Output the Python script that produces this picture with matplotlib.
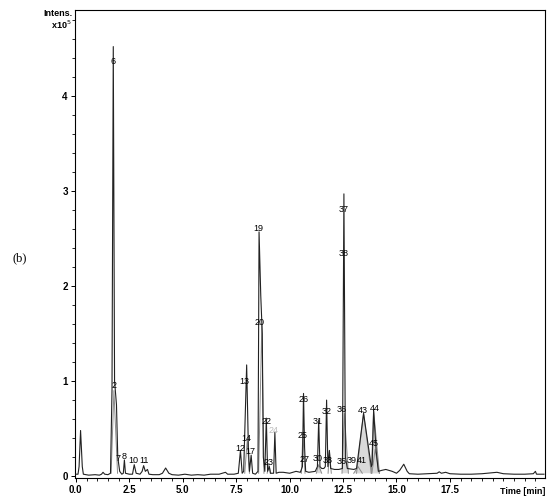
import numpy as np
import matplotlib
matplotlib.use('Agg')
import matplotlib.pyplot as plt

# Cromatograma (b) - intensidad en unidades de 1e5
t_trace = [0.0, 0.1, 0.15, 0.22, 0.3, 0.35, 0.6, 0.9, 1.1, 1.2, 1.27, 1.35, 1.5, 1.62,
           1.69, 1.75, 1.81, 1.9, 1.96, 2.05, 2.15, 2.22, 2.27, 2.32, 2.5, 2.65, 2.73, 2.82,
           3.0, 3.1, 3.17, 3.25, 3.35, 3.42, 3.6, 3.9, 4.05, 4.2, 4.35, 4.5, 4.8, 5.1, 5.4,
           5.7, 6.0, 6.3, 6.7, 7.0, 7.1, 7.4, 7.6, 7.7, 7.78, 7.85, 7.99, 8.07, 8.12, 8.2,
           8.27, 8.4, 8.52, 8.57, 8.65, 8.72, 8.77, 8.84, 8.91, 8.97, 9.05, 9.1, 9.25, 9.31,
           9.37, 9.5, 9.7, 10.0, 10.3, 10.5, 10.6, 10.65, 10.7, 10.75, 10.9, 11.2, 11.3,
           11.36, 11.42, 11.5, 11.6, 11.67, 11.73, 11.79, 11.86, 11.92, 12.1, 12.3, 12.47,
           12.54, 12.61, 12.7, 13.0, 13.13, 13.46, 13.82, 13.86, 13.93, 14.05, 14.15, 14.3,
           14.5, 14.8, 15.0, 15.15, 15.34, 15.5, 15.6, 16.0, 16.5, 16.9, 17.0, 17.1, 17.3,
           17.5, 18.0, 18.5, 19.0, 19.5, 19.7, 20.0, 20.5, 21.0, 21.4, 21.5, 21.55, 21.9]
i_trace = [0.02, 0.02, 0.1, 0.48, 0.1, 0.02, 0.01, 0.015, 0.01, 0.02, 0.04, 0.02, 0.015, 0.03,
           0.9, 4.52, 1.0, 0.75, 0.2, 0.05, 0.02, 0.03, 0.17, 0.03, 0.02, 0.02, 0.12, 0.03,
           0.02, 0.05, 0.11, 0.05, 0.07, 0.02, 0.015, 0.015, 0.03, 0.085, 0.03, 0.015, 0.01,
           0.02, 0.01, 0.015, 0.01, 0.02, 0.02, 0.04, 0.02, 0.02, 0.03, 0.27, 0.03, 0.05,
           1.17, 0.3, 0.05, 0.22, 0.03, 0.02, 0.05, 2.57, 1.9, 1.5, 0.2, 0.05, 0.61, 0.05,
           0.1, 0.03, 0.03, 0.46, 0.03, 0.04, 0.04, 0.03, 0.05, 0.04, 0.1, 0.87, 0.3, 0.05,
           0.04, 0.05, 0.1, 0.59, 0.1, 0.08, 0.08, 0.1, 0.8, 0.1, 0.27, 0.08, 0.07, 0.07,
           0.08, 2.97, 0.2, 0.08, 0.07, 0.08, 0.66, 0.1, 0.12, 0.69, 0.26, 0.05, 0.06, 0.07,
           0.05, 0.03, 0.06, 0.125, 0.05, 0.025, 0.02, 0.025, 0.03, 0.045, 0.03, 0.04,
           0.025, 0.02, 0.02, 0.025, 0.035, 0.04, 0.025, 0.02, 0.02, 0.025, 0.05, 0.02, 0.02]

# Picos individuales (trazas grises): inicio, apice, fin, altura
eic_start = [1.65, 7.9, 8.55, 8.95, 10.55, 11.25, 11.8, 12.45, 13.0, 13.13, 13.82, 13.85]
eic_apex = [1.78, 8.02, 8.7, 9.03, 10.62, 11.35, 11.86, 12.56, 13.2, 13.46, 13.93, 14.0]
eic_end = [1.95, 8.12, 8.8, 9.12, 10.72, 11.5, 11.95, 12.75, 13.4, 13.82, 14.2, 14.2]
eic_height = [0.9, 0.38, 1.6, 0.12, 0.45, 0.12, 0.27, 0.66, 0.1, 0.66, 0.69, 0.28]
eic_filled = [False, False, False, False, False, True, False, True, True, True, True, True]

# Etiquetas de los picos
peak_labels = ['6', '2', '7', '8', '10', '11', '12', '13', '14', '17', '19', '20', '22',
               '23', '24', '25', '26', '27', '30', '31', '32', '33', '35', '36', '37', '38',
               '39', '41', '43', '44', '45']
label_t = [1.73, 1.78, 1.96, 2.24, 2.71, 3.18, 7.71, 7.9, 7.99, 8.18, 8.55, 8.6, 8.93,
           9.02, 9.25, 10.6, 10.65, 10.7, 11.3, 11.3, 11.73, 11.8, 12.43, 12.45, 12.52,
           12.52, 12.88, 13.4, 13.42, 13.98, 13.93]
label_i = [4.36, 0.95, 0.19, 0.21, 0.16, 0.16, 0.29, 1.0, 0.4, 0.26, 2.61, 1.62, 0.57,
           0.14, 0.48, 0.43, 0.81, 0.17, 0.18, 0.57, 0.68, 0.16, 0.15, 0.7, 2.81, 2.34,
           0.16, 0.16, 0.69, 0.71, 0.34]
label_grey = ['24']

fig = plt.figure(figsize=(5.5, 5), dpi=100)
ax = fig.add_axes([0.136, 0.044, 0.855, 0.936])

for s, a, e, h, f in zip(eic_start, eic_apex, eic_end, eic_height, eic_filled):
    xs = [s, a, e]
    ys = [0.03, h, 0.03]
    if f:
        ax.fill(xs, ys, color='#d9d9d9', lw=0, zorder=1)
    ax.plot(xs, ys, color='#8c8c8c', lw=0.7, zorder=2)

ax.plot(t_trace, i_trace, color='#222222', lw=0.8, zorder=3)

for lab, tt, ii in zip(peak_labels, label_t, label_i):
    c = '#bbbbbb' if lab in label_grey else 'black'
    ax.text(tt, ii, lab, fontsize=6.5, ha='center', va='center', color=c,
            family='Liberation Sans', zorder=4)

ax.set_xlim(-0.05, 21.95)
ax.set_ylim(-0.02, 4.905)
ax.set_xticks([0, 2.5, 5, 7.5, 10, 12.5, 15, 17.5])
ax.set_xticklabels(['0.0', '2.5', '5.0', '7.5', '10.0', '12.5', '15.0', '17.5'])
ax.set_xticks(np.arange(0, 22, 0.5), minor=True)
ax.set_yticks([0, 1, 2, 3, 4])
ax.set_yticks(np.arange(0, 4.9, 0.2), minor=True)
ax.tick_params(which='major', length=3, width=0.7, labelsize=7, pad=2)
ax.tick_params(which='minor', length=2, width=0.6)
for lbl in ax.get_xticklabels() + ax.get_yticklabels():
    lbl.set_family('Liberation Sans')
    lbl.set_fontweight('bold')
for sp in ax.spines.values():
    sp.set_linewidth(0.8)

fig.text(0.131, 0.972, 'Intens.', ha='right', va='center', fontsize=6.5,
         family='Liberation Sans', fontweight='bold')
fig.text(0.131, 0.95, 'x10$^5$', ha='right', va='center', fontsize=6.5,
         family='Liberation Sans', fontweight='bold')
fig.text(0.991, 0.018, 'Time [min]', ha='right', va='center', fontsize=6.5,
         family='Liberation Sans', fontweight='bold')
fig.text(0.036, 0.484, '(b)', ha='center', va='center', fontsize=9,
         family='Liberation Serif')

fig.savefig('out.png', dpi=100)
